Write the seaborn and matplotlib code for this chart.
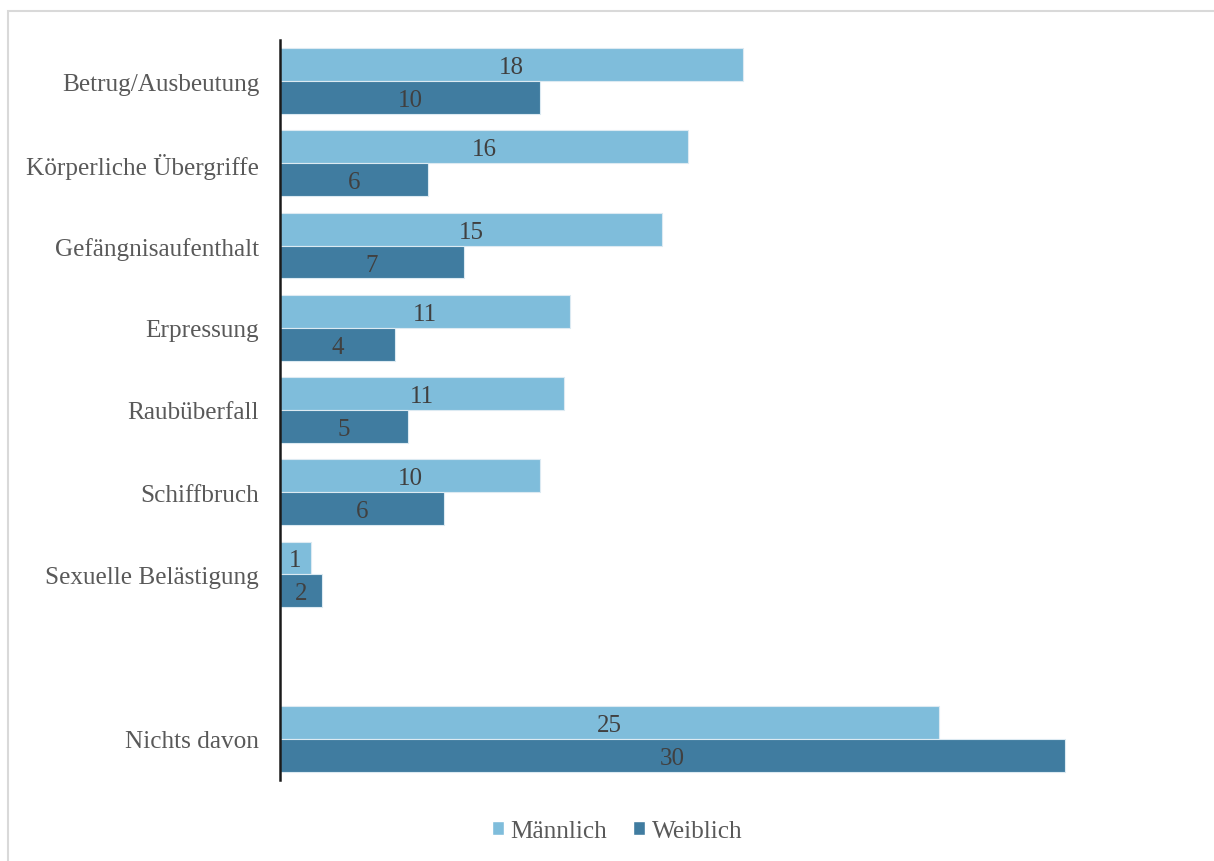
import numpy as np
import pandas as pd
import matplotlib.pyplot as plt
import seaborn as sns
from matplotlib.patches import Rectangle, Patch

# Daten (Prozentwerte, aus der Grafik geschätzt)
kategorien = ["Betrug/Ausbeutung", "Körperliche Übergriffe", "Gefängnisaufenthalt",
              "Erpressung", "Raubüberfall", "Schiffbruch", "Sexuelle Belästigung",
              " ", "Nichts davon"]
maennlich = [17.7, 15.6, 14.6, 11.1, 10.85, 9.93, 1.18, 0, 25.2]
weiblich = [9.93, 5.66, 7.03, 4.4, 4.9, 6.27, 1.6, 0, 30.0]
gruppen = ["Männlich", "Weiblich"]
farben = ["#7fbddb", "#407ca0"]

df = pd.DataFrame({
    "Kategorie": kategorien * 2,
    "Geschlecht": [gruppen[0]] * len(kategorien) + [gruppen[1]] * len(kategorien),
    "Wert": maennlich + weiblich,
})

sns.set_style("white")
plt.rcParams["font.family"] = ["Liberation Serif", "DejaVu Serif"]

fig = plt.figure(figsize=(12.14, 8.62), dpi=100)
ax = fig.add_axes([280 / 1214, 81 / 862, 800 / 1214, 740 / 862])

sns.barplot(data=df, y="Kategorie", x="Wert", hue="Geschlecht", order=kategorien,
            hue_order=gruppen, palette=farben, saturation=1, orient="h", width=0.8,
            edgecolor="#dceaf2", linewidth=0.8, ax=ax, legend=False)

ax.set_xlim(0, 800 / 26.17)
ax.set_xlabel("")
ax.set_ylabel("")
ax.set_xticks([])
ax.tick_params(axis="y", length=0, labelsize=18.2, labelcolor="#595959", pad=15)
for s in ["top", "right", "bottom"]:
    ax.spines[s].set_visible(False)
ax.spines["left"].set_color("#1a1a1a")
ax.spines["left"].set_linewidth(1.8)

for cont in ax.containers:
    labels = ["" if v == 0 else f"{v:.0f}" for v in cont.datavalues]
    t = ax.bar_label(cont, labels=labels, label_type="center", fontsize=18, color="#404040")
    for tt in t:
        tt.set_va("center_baseline")

handles = [Patch(facecolor=c, label=g) for g, c in zip(gruppen, farben)]
fig.legend(handles=handles, loc="center", bbox_to_anchor=(617 / 1214, 1 - 832 / 862),
           ncol=2, frameon=False, fontsize=18.2, handlelength=0.5, handleheight=0.5,
           handletextpad=0.25, columnspacing=1.0, labelcolor="#595959")

# grauer Rahmen
fig.patches.append(Rectangle((8 / 1214, -0.1), 1.2, 1 - 12 / 862 + 0.1,
                             transform=fig.transFigure, fill=False,
                             edgecolor="#d9d9d9", linewidth=1.5))

fig.savefig("out.png", dpi=100)
